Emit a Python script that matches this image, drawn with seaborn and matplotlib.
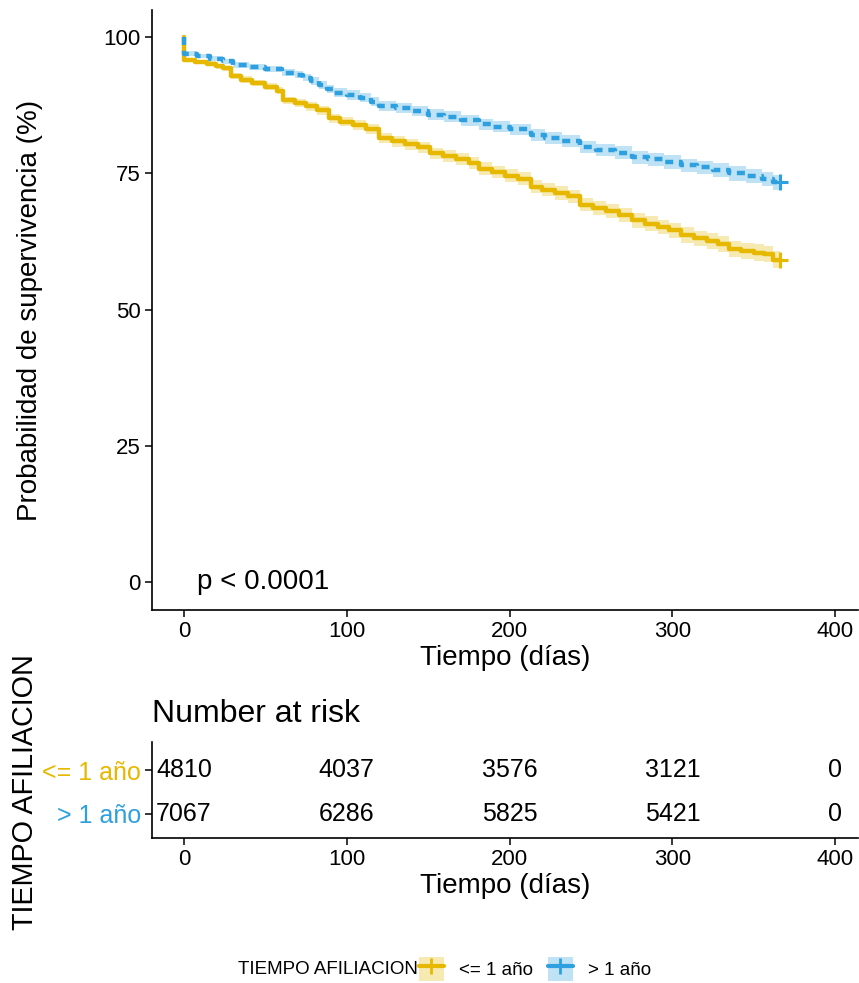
import numpy as np
import pandas as pd
import seaborn as sns
import matplotlib.pyplot as plt
from matplotlib.patches import Patch
from matplotlib.lines import Line2D

# Curva <= 1 año (tiempo en días, supervivencia %, semiancho del IC)
tiempo_a = [0, 0, 7, 14, 20, 24, 29, 35, 42, 50, 57, 61, 68, 75, 82, 89, 96, 104, 112,
            120, 128, 136, 144, 151, 159, 167, 175, 181, 189, 197, 205, 213, 220, 228,
            236, 243, 251, 259, 267, 275, 283, 291, 298, 305, 313, 321, 328, 335, 342,
            350, 356, 362, 366]
surv_a = [100, 95.8, 95.5, 95.1, 94.7, 94.3, 92.8, 92.2, 91.6, 90.9, 90.2, 88.4, 87.9,
          87.3, 86.6, 85.1, 84.5, 83.9, 83.2, 81.5, 80.9, 80.4, 79.8, 78.7, 78.2, 77.6,
          76.9, 75.9, 75.3, 74.6, 74.0, 72.6, 72.0, 71.4, 70.8, 69.3, 68.7, 68.1, 67.4,
          66.4, 65.8, 65.2, 64.6, 63.7, 63.1, 62.6, 62.1, 61.2, 60.8, 60.5, 60.2, 59.2, 59.2]
ci_a = [0, 0.4, 0.4, 0.45, 0.45, 0.5, 0.55, 0.6, 0.6, 0.65, 0.65, 0.7, 0.7, 0.75, 0.8,
        0.85, 0.85, 0.9, 0.9, 0.95, 0.95, 1.0, 1.0, 1.05, 1.05, 1.1, 1.1, 1.15, 1.15, 1.15,
        1.2, 1.2, 1.2, 1.25, 1.25, 1.25, 1.3, 1.3, 1.3, 1.35, 1.35, 1.35, 1.4, 1.4, 1.4,
        1.45, 1.45, 1.45, 1.5, 1.5, 1.5, 1.5, 1.5]

# Curva > 1 año
tiempo_b = [0, 0, 8, 16, 24, 30, 40, 50, 60, 68, 73, 78, 83, 88, 92, 100, 108, 115, 120,
            130, 140, 150, 160, 170, 181, 190, 200, 213, 222, 232, 243, 253, 265, 275,
            285, 295, 305, 315, 325, 335, 345, 355, 362, 366]
surv_b = [100, 97.0, 96.6, 96.1, 95.6, 94.9, 94.6, 94.2, 93.5, 93.1, 92.6, 92.0, 91.2,
          90.5, 89.8, 89.4, 88.9, 88.2, 87.4, 87.0, 86.5, 85.8, 85.4, 84.8, 84.0, 83.6,
          83.1, 82.1, 81.6, 81.0, 79.9, 79.3, 78.8, 78.0, 77.6, 77.1, 76.5, 76.1, 75.6,
          75.0, 74.6, 74.0, 73.4, 73.4]
ci_b = [0, 0.4, 0.4, 0.45, 0.45, 0.5, 0.55, 0.6, 0.6, 0.65, 0.65, 0.7, 0.7, 0.75, 0.8,
        0.85, 0.85, 0.9, 0.9, 0.9, 0.95, 0.95, 1.0, 1.0, 1.0, 1.05, 1.05, 1.1, 1.1, 1.1,
        1.15, 1.15, 1.2, 1.2, 1.2, 1.25, 1.25, 1.25, 1.3, 1.3, 1.3, 1.35, 1.35, 1.35]

grupos = ['<= 1 año', '> 1 año']
colores = ['#E7B800', '#2E9FDF']

# Tabla de riesgo
tiempos_riesgo = [0, 100, 200, 300, 400]
riesgo_a = [4810, 4037, 3576, 3121, 0]
riesgo_b = [7067, 6286, 5825, 5421, 0]

sns.set_theme(style='ticks')
plt.rcParams['font.family'] = ['Liberation Sans', 'DejaVu Sans']
plt.rcParams.update({'text.color': 'black', 'axes.labelcolor': 'black',
                     'xtick.color': 'black', 'ytick.color': 'black',
                     'axes.edgecolor': 'black'})

df = pd.concat([
    pd.DataFrame({'tiempo': tiempo_a, 'surv': surv_a, 'ci': ci_a, 'grupo': grupos[0]}),
    pd.DataFrame({'tiempo': tiempo_b, 'surv': surv_b, 'ci': ci_b, 'grupo': grupos[1]}),
], ignore_index=True)

fig = plt.figure(figsize=(8.59, 9.83), dpi=100)
ax = fig.add_axes([152 / 859, 1 - 610 / 983, 1 - 152 / 859 - 0.001, 600 / 983])
ax2 = fig.add_axes([152 / 859, 1 - 838 / 983, 1 - 152 / 859 - 0.001, 96 / 983])

# bandas de confianza
for g, c in zip(grupos, colores):
    d = df[df.grupo == g]
    ax.fill_between(d.tiempo, d.surv - d.ci, d.surv + d.ci, step='post',
                    color=c, alpha=0.3, linewidth=0)

sns.lineplot(data=df, x='tiempo', y='surv', hue='grupo', style='grupo',
             palette=dict(zip(grupos, colores)),
             dashes={grupos[0]: '', grupos[1]: (1.8, 1.3)},
             estimator=None, sort=False, drawstyle='steps-post',
             linewidth=3.2, legend=False, ax=ax)

# marcas de censura al final
for g, c in zip(grupos, colores):
    d = df[df.grupo == g].iloc[-1]
    ax.plot(d.tiempo, d.surv, marker='+', color=c, markersize=12, mew=2.2)

ax.text(8, 0, 'p < 0.0001', ha='left', va='center', fontsize=20)

ax.set_xlim(-19.6, 414)
ax.set_ylim(-5.1, 105)
ax.set_xticks([0, 100, 200, 300, 400])
ax.set_yticks([0, 25, 50, 75, 100])
ax.set_xlabel('Tiempo (días)', fontsize=20, labelpad=2)
ax.set_ylabel('Probabilidad de supervivencia (%)', fontsize=20, labelpad=44)

# tabla "Number at risk"
for t, na, nb in zip(tiempos_riesgo, riesgo_a, riesgo_b):
    ax2.text(t, 2, str(na), ha='center', va='center', fontsize=18)
    ax2.text(t, 1, str(nb), ha='center', va='center', fontsize=18)
ax2.set_xlim(-19.6, 414)
ax2.set_ylim(0.45, 2.64)
ax2.set_xticks([0, 100, 200, 300, 400])
ax2.set_yticks([2, 1])
ax2.set_yticklabels(grupos, fontsize=18)
for lbl, c in zip(ax2.get_yticklabels(), colores):
    lbl.set_color(c)
ax2.set_xlabel('Tiempo (días)', fontsize=20, labelpad=2)
ax2.text(0, 1 + 28 / 96, 'Number at risk', transform=ax2.transAxes,
         ha='left', va='center', fontsize=23)
fig.text(25 / 859, 1 - 792 / 983, 'TIEMPO AFILIACION', rotation=90,
         ha='center', va='center', fontsize=20.7)

for a in (ax, ax2):
    sns.despine(ax=a)
    for s in ('left', 'bottom'):
        a.spines[s].set_linewidth(1.2)
    a.tick_params(axis='both', length=5, width=1.1, labelsize=16, pad=3)
ax2.tick_params(axis='y', labelsize=18)

# leyenda inferior
handles = []
for c in colores:
    handles.append((Patch(facecolor=c, alpha=0.3, edgecolor='none'),
                    Line2D([], [], color=c, linewidth=3, linestyle='-',
                           marker='+', markersize=11, mew=2)))
fig.text(418 / 859, 1 - 969 / 983, 'TIEMPO AFILIACION', ha='right', va='center',
         fontsize=13.5)
fig.legend(handles, grupos, loc='center left', bbox_to_anchor=(419 / 859, 1 - 969 / 983),
           ncol=2, frameon=False, fontsize=13.5, borderpad=0, borderaxespad=0,
           handlelength=1.33, handleheight=1.65, handletextpad=0.8, columnspacing=0.8)

fig.savefig('out.png', dpi=100)
